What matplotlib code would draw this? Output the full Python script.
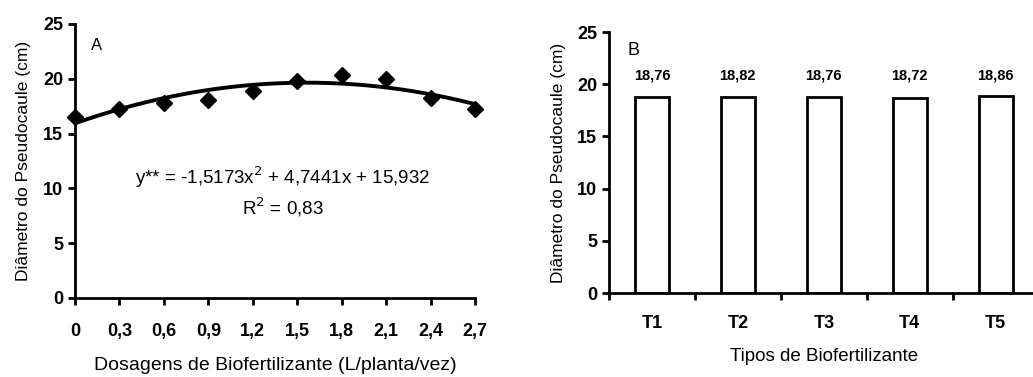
import numpy as np
import matplotlib
matplotlib.use("Agg")
import matplotlib.pyplot as plt

plt.rcParams['font.family'] = ['Liberation Sans', 'DejaVu Sans']

# Painel A - dosagens
doses = [0, 0.3, 0.6, 0.9, 1.2, 1.5, 1.8, 2.1, 2.4, 2.7]
dose_labels = ['0', '0,3', '0,6', '0,9', '1,2', '1,5', '1,8', '2,1', '2,4', '2,7']
diametro_a = [16.5, 17.2, 17.8, 18.1, 18.9, 19.8, 20.3, 20.0, 18.2, 17.2]
coef = [-1.5173, 4.7441, 15.932]   # y = a x^2 + b x + c (equação mostrada)

# Painel B - tipos
tipos = ['T1', 'T2', 'T3', 'T4', 'T5']
diametro_b = [18.76, 18.82, 18.76, 18.72, 18.86]
rotulos_b = ['18,76', '18,82', '18,76', '18,72', '18,86']

fig = plt.figure(figsize=(10.33, 3.77), dpi=100)

# ---- A ----
ax1 = fig.add_axes([0.0726, 0.2096, 0.3872, 0.727])
xs = np.linspace(0, 2.7, 200)
ax1.plot(xs, np.polyval(coef, xs), color='black', lw=2.8, zorder=2)
ax1.plot(doses, diametro_a, linestyle='none', marker='D', markersize=8.5,
         color='black', zorder=3, clip_on=False)
ax1.set_xlim(0, 2.7)
ax1.set_ylim(0, 25)
ax1.set_xticks(doses)
ax1.set_xticklabels(dose_labels)
ax1.set_yticks([0, 5, 10, 15, 20, 25])
ax1.tick_params(axis='x', pad=13)
ax1.text(0.04, 0.92, 'A', transform=ax1.transAxes, fontsize=12, va='center')
ax1.text(1.4, 11.0, 'y** = -1,5173x$^{2}$ + 4,7441x + 15,932', ha='center',
         va='center', fontsize=13.5)
ax1.text(1.4, 8.3, 'R$^{2}$ = 0,83', ha='center', va='center', fontsize=13.5)
ax1.set_xlabel('Dosagens de Biofertilizante (L/planta/vez)', fontsize=14, labelpad=12)
ax1.set_ylabel('Diâmetro do Pseudocaule (cm)', fontsize=12.5, labelpad=9)

# ---- B ----
ax2 = fig.add_axes([0.5895, 0.2228, 0.416, 0.692])
pos = np.arange(len(tipos)) + 0.5
ax2.bar(pos, diametro_b, width=0.4, color='white', edgecolor='black', lw=2)
for p, v, r in zip(pos, diametro_b, rotulos_b):
    ax2.text(p, 20.8, r, ha='center', va='center', fontsize=10.5, fontweight='bold')
ax2.set_xlim(0, 5)
ax2.set_ylim(0, 25)
ax2.set_xticks(range(0, 6))
ax2.set_xticklabels([])
ax2.set_xticks(pos, minor=True)
ax2.set_xticklabels(tipos, minor=True, fontweight='bold')
ax2.tick_params(axis='x', which='minor', length=0, pad=16, labelsize=13)
ax2.set_yticks([0, 5, 10, 15, 20, 25])
ax2.text(0.042, 0.93, 'B', transform=ax2.transAxes, fontsize=13, va='center')
ax2.set_xlabel('Tipos de Biofertilizante', fontsize=13.5, labelpad=11)
ax2.set_ylabel('Diâmetro do Pseudocaule (cm)', fontsize=12.5, labelpad=8)

for ax in (ax1, ax2):
    for s in ('top', 'right'):
        ax.spines[s].set_visible(False)
    for s in ('left', 'bottom'):
        ax.spines[s].set_linewidth(2)
    ax.tick_params(which='major', width=2, length=5, labelsize=13, direction='out')
    for lab in ax.get_xticklabels() + ax.get_yticklabels():
        lab.set_fontweight('bold')

fig.savefig('out.png', dpi=100)
